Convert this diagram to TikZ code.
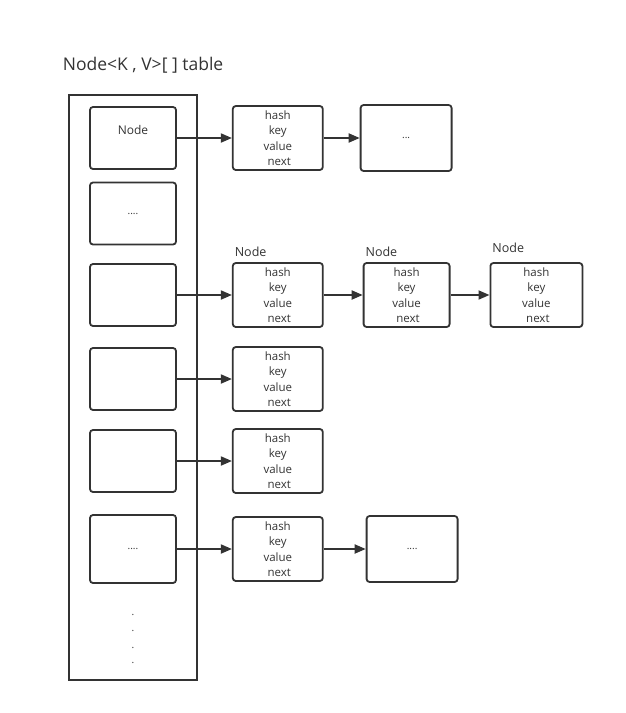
\documentclass[tikz,border=0pt]{standalone}
\usepackage{fontspec}
\setmainfont{Open Sans}
\usetikzlibrary{positioning, arrows.meta}
\definecolor{ink}{HTML}{333333}

\begin{document}
\begin{tikzpicture}[
        x=1pt, y=-1pt,
        node distance = 40pt and 40pt,
        line width=1.8pt,
        >={Triangle[length=11pt,width=9pt]},
        every node/.style={text=ink},
        slot/.style={rectangle, rounded corners=3pt, draw=ink, align=center,
                    minimum width=86pt, minimum height=62pt, font=\fontsize{12}{16}\selectfont},
        entry/.style={rectangle, rounded corners=3pt, draw=ink, align=center,
                    minimum width=90pt, minimum height=64pt, font=\fontsize{11.5}{15.5}\selectfont},
        more/.style={entry, minimum width=91pt, minimum height=66pt, font=\fontsize{10}{12}\selectfont},
        head/.style={label={[anchor=south west, inner xsep=2pt, inner ysep=#1,
                    font=\fontsize{12.5}{14}\selectfont]north west:Node}},
        head/.default=5pt
                    ]
        \useasboundingbox (0,0) rectangle (625,713);
        \node (title) [anchor=west, inner sep=0pt, font=\fontsize{17.5}{20}\selectfont] at (62,65) {Node<K , V>[ ] table};
        \node (table) [rectangle, draw=ink, minimum width=128pt, minimum height=585pt] at (133,387.5) {};
        %
        \node (s1) [slot] at (133,138) {Node\\ \mbox{}};
        \node (s2) [slot, font=\fontsize{10}{12}\selectfont] at (133,213.5) {....};
        \node (s3) [slot] at (133,295) {};
        \node (s4) [slot] at (133,379) {};
        \node (s5) [slot] at (133,461) {};
        \node (s6) [slot, minimum height=68pt, font=\fontsize{10}{12}\selectfont] at (133,549) {....};
        \node (d1) [font=\fontsize{10}{12}\selectfont] at (133,615) {.};
        \node (d2) [font=\fontsize{10}{12}\selectfont] at (133,631) {.};
        \node (d3) [font=\fontsize{10}{12}\selectfont] at (133,648) {.};
        \node (d4) [font=\fontsize{10}{12}\selectfont] at (133,663) {.};
        %
        \node (e1) [entry, right=55pt of s1] {hash\\key\\value\\\ next};
        \node (m1) [more, right=36pt of e1] {...};
        \node (e3) [entry, head, right=55pt of s3] {hash\\key\\value\\\ next};
        \node (f3) [entry, head, minimum width=86pt, right=39pt of e3] {hash\\key\\value\\\ next};
        \node (g3) [entry, head=9pt, minimum width=92pt, right=39pt of f3] {hash\\key\\value\\\ next};
        \node (e4) [entry, right=55pt of s4] {hash\\key\\value\\\ next};
        \node (e5) [entry, right=55pt of s5] {hash\\key\\value\\\ next};
        \node (e6) [entry, right=55pt of s6] {hash\\key\\value\\\ next};
        \node (m6) [more, right=42pt of e6] {....};
        %
        \draw[->, ink] (s1) -- (e1);
        \draw[->, ink] (e1) -- (m1);
        \draw[->, ink] (s3) -- (e3);
        \draw[->, ink] (e3) -- (f3);
        \draw[->, ink] (f3) -- (g3);
        \draw[->, ink] (s4) -- (e4);
        \draw[->, ink] (s5) -- (e5);
        \draw[->, ink] (s6) -- (e6);
        \draw[->, ink] (e6) -- (m6);
    \end{tikzpicture}
\end{document}
